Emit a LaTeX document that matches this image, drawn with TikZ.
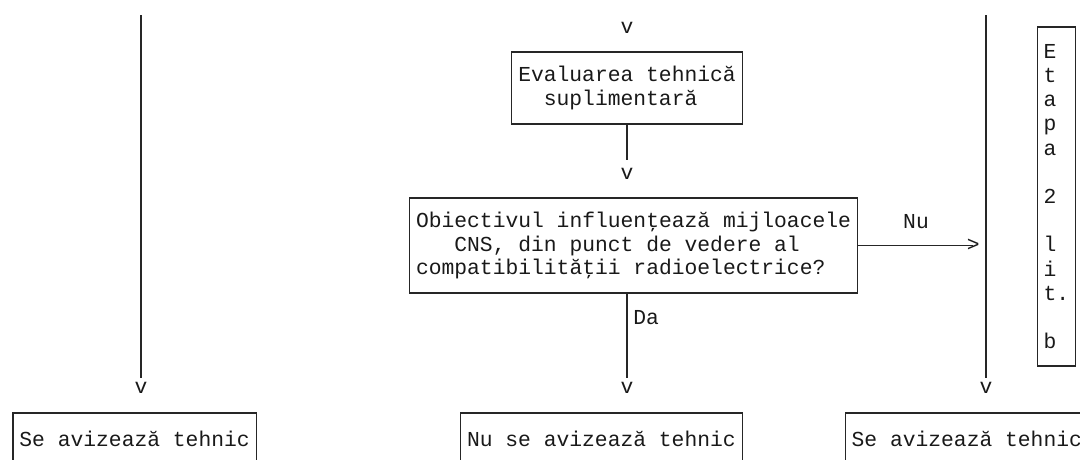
\documentclass[tikz,border=0pt]{standalone}
\usepackage{fontspec}
\newfontfamily\mono{Liberation Mono}
\tikzset{
  ink/.style={draw=black!85, line width=1.2pt},
  txt/.style={font=\fontsize{21.32}{23.5}\selectfont\mono, text=black!90, inner sep=0pt},
  box/.style={txt, draw=black!85, line width=1.2pt, inner xsep=6.4pt, inner ysep=0pt, align=left},
}
\begin{document}
\begin{tikzpicture}[x=1pt,y=-1pt]
\clip (0,0) rectangle (1080,459);
% middle column
\node[txt] (v0) at (627,28) {v};
\node[box, minimum width=230.2pt, minimum height=72pt] (b1) at (627,88) {Evaluarea tehnică\\\phantom{xx}suplimentară};
\coordinate (l1) at (627,160);
\node[txt] (v1) at (627,174) {v};
\draw[ink] (b1.south) -- (l1);
\node[box, minimum width=447.7pt, minimum height=95pt] (b2) at (633.5,245.5) {Obiectivul influenţează mijloacele\\\phantom{xxx}CNS, din punct de vedere al\\compatibilităţii radioelectrice?};
\coordinate (l2) at (627,378);
\node[txt] (v2) at (627,388) {v};
\draw[ink] (v2 |- b2.south) -- (l2);
\node[txt] (da) at (646.2,318) {Da};
% Nu branch
\node[txt] (nu) at (916,222) {Nu};
\node[txt] (gt) at (973.2,245.5) {>};
\draw[ink] (b2.east) -- (gt.center);
% left column
\coordinate (tL) at (141,15);
\coordinate (eL) at (141,378);
\node[txt] (vL) at (141,388) {v};
\draw[ink] (tL) -- (eL);
% right column
\coordinate (tR) at (986,15);
\coordinate (eR) at (986,378);
\node[txt] (vR) at (986,388) {v};
\draw[ink] (tR) -- (eR);
% Etapa box
\node[box, minimum width=38.4pt, minimum height=339pt, font=\fontsize{21.32}{24.2}\selectfont\mono] (et) at (1056.4,196.5) {E\\t\\a\\p\\a\\\mbox{}\\2\\\mbox{}\\l\\i\\t.\\\mbox{}\\b};
% bottom boxes
\node[box, minimum width=243pt, minimum height=52pt] (s1) at (134.6,439) {Se avizează tehnic};
\node[box, minimum width=281.4pt, minimum height=52pt] (s2) at (601.4,439) {Nu se avizează tehnic};
\node[box, minimum width=243pt, minimum height=52pt] (s3) at (966.8,439) {Se avizează tehnic};
\end{tikzpicture}
\end{document}
